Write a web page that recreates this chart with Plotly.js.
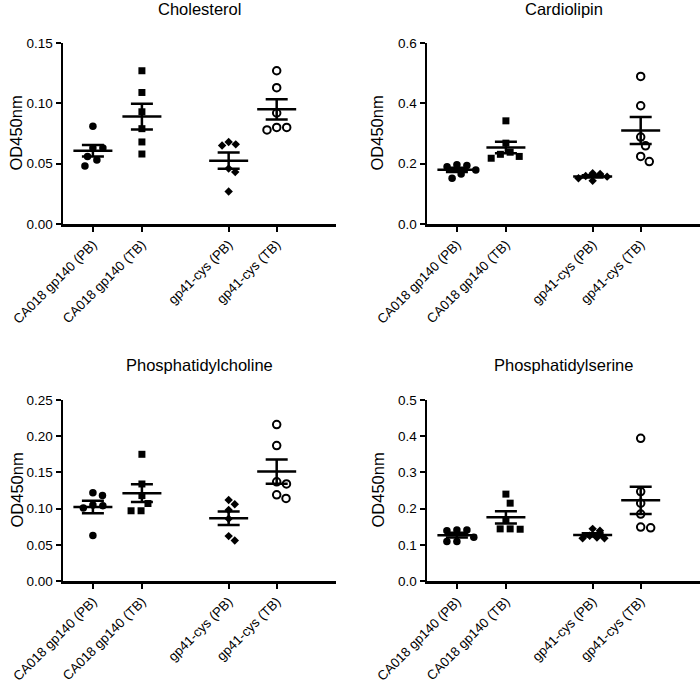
<!DOCTYPE html>
<html>
<head>
<meta charset="utf-8">
<script src="https://cdn.plot.ly/plotly-3.0.1.min.js"></script>
<style>html,body{margin:0;padding:0;background:#fff;}#chart{width:700px;height:686px;}</style>
</head>
<body>
<div id="chart"></div>
<script>
// ---- data ----
const categories = ['CA018 gp140 (PB)', 'CA018 gp140 (TB)', 'gp41-cys (PB)', 'gp41-cys (TB)'];
const panelTitles = ['Cholesterol', 'Cardiolipin', 'Phosphatidylcholine', 'Phosphatidylserine'];
const yAxisLabel = 'OD450nm';

const cholesterol = [
  [0.081, 0.063, 0.063, 0.056, 0.053, 0.048],
  [0.127, 0.109, 0.093, 0.079, 0.068, 0.058],
  [0.068, 0.065, 0.066, 0.046, 0.043, 0.027],
  [0.127, 0.113, 0.092, 0.080, 0.078, 0.080]
];
const cardiolipin = [
  [0.194, 0.179, 0.190, 0.166, 0.196, 0.152],
  [0.342, 0.268, 0.231, 0.218, 0.224, 0.238],
  [0.166, 0.168, 0.152, 0.143, 0.157, 0.159],
  [0.489, 0.392, 0.288, 0.259, 0.207, 0.224]
];
const phosphatidylcholine = [
  [0.118, 0.122, 0.104, 0.101, 0.105, 0.063],
  [0.175, 0.134, 0.118, 0.107, 0.097, 0.097],
  [0.112, 0.106, 0.098, 0.086, 0.056, 0.062],
  [0.216, 0.187, 0.137, 0.134, 0.119, 0.114]
];
const phosphatidylserine = [
  [0.141, 0.139, 0.141, 0.121, 0.109, 0.109],
  [0.240, 0.215, 0.169, 0.144, 0.143, 0.144],
  [0.139, 0.144, 0.125, 0.118, 0.120, 0.118],
  [0.394, 0.247, 0.215, 0.185, 0.147, 0.149]
];
const yTickVals = [
  [0, 0.05, 0.10, 0.15],
  [0, 0.2, 0.4, 0.6],
  [0, 0.05, 0.10, 0.15, 0.20, 0.25],
  [0, 0.1, 0.2, 0.3, 0.4, 0.5]
];

// ---- layout constants ----
const W = 700, H = 686;
const catPos = [1, 2, 3.77, 4.75];
const xRange = [0.39, 5.96];
const yMax = [0.15, 0.6, 0.25, 0.5];
const yFormat = ['.2f', '.1f', '.2f', '.1f'];
const xDomains = [[63/W, 336/W], [427/W, 1], [63/W, 336/W], [427/W, 1]];
const yDomains = [[1-224/H, 1-43/H], [1-224/H, 1-43/H], [1-581/H, 1-400/H], [1-581/H, 1-400/H]];
const titleY = [1-9/H, 1-9/H, 1-365/H, 1-365/H];
const yTitleX = [16/W, 377/W, 16/W, 377/W];
const symbols = ['circle', 'square', 'diamond', 'circle-open'];
const sizes = [7.5, 7, 6.5, 7.5];
const swarmSpacing = [10, 10, 7.5, 10];
const FONT = 'Arial, "Liberation Sans", sans-serif';

const panels = [cholesterol, cardiolipin, phosphatidylcholine, phosphatidylserine];

// beeswarm: horizontal offsets (data units) so points don't overlap
function beeswarm(vals, pxPerY, pxPerX, s) {
  const idx = vals.map((v, i) => i).sort((a, b) => vals[b] - vals[a]);
  const placed = [];
  const off = new Array(vals.length).fill(0);
  idx.forEach(i => {
    const py = vals[i] * pxPerY;
    const cands = [0];
    placed.forEach(p => {
      const dy = Math.abs(p.y - py);
      if (dy < s) {
        const dx = Math.sqrt(s * s - dy * dy);
        cands.push(p.x + dx, p.x - dx);
      }
    });
    cands.sort((a, b) => Math.abs(a) - Math.abs(b) || b - a);
    let chosen = 0;
    for (const c of cands) {
      const ok = placed.every(p => {
        const dx = p.x - c, dy = p.y - py;
        return dx * dx + dy * dy >= s * s - 1e-6;
      });
      if (ok) { chosen = c; break; }
    }
    placed.push({x: chosen, y: py});
    off[i] = chosen / pxPerX;
  });
  return off;
}

const traces = [];
const layout = {
  width: W, height: H,
  margin: {l: 0, r: 0, t: 0, b: 0},
  paper_bgcolor: '#fff', plot_bgcolor: 'rgba(0,0,0,0)',
  showlegend: false,
  font: {family: FONT, color: '#000', size: 13},
  annotations: []
};

panels.forEach((groups, p) => {
  const k = p + 1;
  const xa = 'x' + (k === 1 ? '' : k), ya = 'y' + (k === 1 ? '' : k);
  const plotW = (xDomains[p][1] - xDomains[p][0]) * W;
  const plotH = (yDomains[p][1] - yDomains[p][0]) * H;
  const pxPerX = plotW / (xRange[1] - xRange[0]);
  const pxPerY = plotH / yMax[p];

  groups.forEach((vals, g) => {
    const offs = beeswarm(vals, pxPerY, pxPerX, swarmSpacing[g]);
    traces.push({
      type: 'scatter', mode: 'markers', xaxis: xa, yaxis: ya, cliponaxis: false,
      x: vals.map((v, i) => catPos[g] + offs[i]), y: vals,
      marker: {symbol: symbols[g], size: sizes[g], color: '#000',
               line: {color: '#000', width: symbols[g] === 'circle-open' ? 2 : 0}},
      hoverinfo: 'y'
    });
    const n = vals.length;
    const mean = vals.reduce((a, b) => a + b, 0) / n;
    const sd = Math.sqrt(vals.reduce((a, b) => a + (b - mean) * (b - mean), 0) / (n - 1));
    const sem = sd / Math.sqrt(n);
    const half = 19.5 / pxPerX;
    traces.push({
      type: 'scatter', mode: 'lines', xaxis: xa, yaxis: ya, cliponaxis: false,
      x: [catPos[g] - half, catPos[g] + half], y: [mean, mean],
      line: {color: '#000', width: 2.5}, hoverinfo: 'skip'
    });
    traces.push({
      type: 'scatter', mode: 'markers', xaxis: xa, yaxis: ya, cliponaxis: false,
      x: [catPos[g]], y: [mean],
      marker: {size: 1, color: 'rgba(0,0,0,0)'},
      error_y: {type: 'data', array: [sem], visible: true, color: '#000', thickness: 2.5, width: 11},
      hoverinfo: 'skip'
    });
  });

  const xKey = 'xaxis' + (k === 1 ? '' : k), yKey = 'yaxis' + (k === 1 ? '' : k);
  layout[xKey] = {
    domain: xDomains[p], anchor: ya, range: xRange,
    showgrid: false, zeroline: false, showline: true, linecolor: '#000', linewidth: 2.5,
    ticks: 'outside', ticklen: 5, tickwidth: 2, tickcolor: '#000',
    tickvals: catPos, ticktext: categories, tickangle: -45,
    tickfont: {family: FONT, size: 13.3, color: '#000'}, fixedrange: true
  };
  layout[yKey] = {
    domain: yDomains[p], anchor: xa, range: [0, yMax[p]],
    showgrid: false, zeroline: false, showline: true, linecolor: '#000', linewidth: 2.5,
    ticks: 'outside', ticklen: 5, tickwidth: 2, tickcolor: '#000',
    tickvals: yTickVals[p], tickformat: yFormat[p],
    tickfont: {family: FONT, size: 13.5, color: '#000'},
    fixedrange: true
  };
  layout.annotations.push({
    text: panelTitles[p], xref: 'paper', yref: 'paper',
    x: (xDomains[p][0] + xDomains[p][1]) / 2, y: titleY[p],
    xanchor: 'center', yanchor: 'middle', showarrow: false,
    font: {family: FONT, size: 16.5, color: '#000'}
  });
  layout.annotations.push({
    text: yAxisLabel, xref: 'paper', yref: 'paper', textangle: -90,
    x: yTitleX[p], y: (yDomains[p][0] + yDomains[p][1]) / 2,
    xanchor: 'center', yanchor: 'middle', showarrow: false,
    font: {family: FONT, size: 16.5, color: '#000'}
  });
});

Plotly.newPlot('chart', traces, layout, {displayModeBar: false, staticPlot: true});
</script>
</body>
</html>
